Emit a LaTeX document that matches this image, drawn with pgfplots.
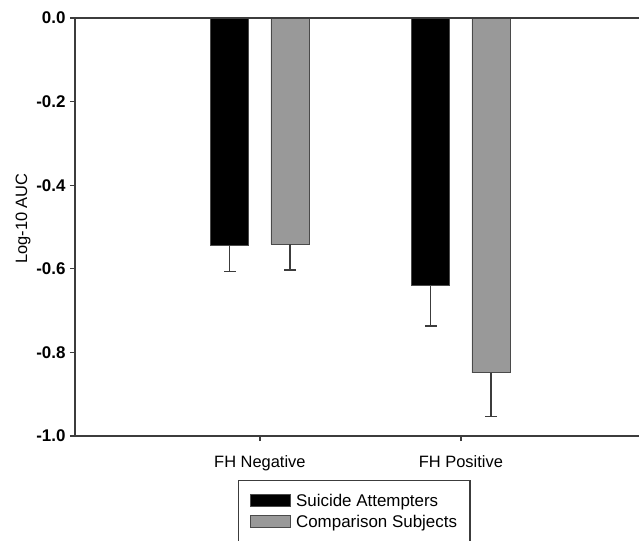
\documentclass[border=0pt]{standalone}
\usepackage{fontspec}
\setmainfont{Liberation Sans}
\usepackage{pgfplots}
\pgfplotsset{compat=1.18}
\definecolor{axgray}{HTML}{3C3C3C}
\definecolor{bargray}{HTML}{999999}
\definecolor{edgegray}{HTML}{4A4A4A}
\begin{document}
\begin{tikzpicture}
\useasboundingbox (0,0) rectangle (639bp,541bp);
\begin{axis}[
  at={(75bp,105bp)}, anchor=south west,
  scale only axis, width=564bp, height=418bp,
  xmin=0.08, xmax=2.886, ymin=-1, ymax=0,
  axis x line*=bottom, axis y line*=left,
  axis line style={axgray, line width=1.3bp},
  ybar, bar width=0.19,
  xtick={1,2}, xticklabels={FH Negative, FH Positive},
  ytick={-1,-0.8,-0.6,-0.4,-0.2,0},
  yticklabels={-1.0,-0.8,-0.6,-0.4,-0.2,0.0},
  yticklabel style={font=\fontsize{17}{20}\selectfont\bfseries, xshift=-1bp},
  xticklabel style={font=\fontsize{16.5}{19}\selectfont, yshift=-11bp},
  tick align=outside, major tick length=5bp,
  tick style={axgray, line width=1.2bp},
  ylabel={Log-10 AUC},
  ylabel style={font=\fontsize{16.5}{19}\selectfont, at={(axis description cs:-0.092,0.52)}, anchor=center},
  legend style={at={(0.289,-0.105)}, anchor=north west, draw=axgray, line width=1.2bp,
    font=\fontsize{17}{20}\selectfont, inner xsep=11bp, inner ysep=12bp, row sep=3bp},
  legend cell align=left,
  legend image code/.code={\draw[#1, line width=1bp] (0bp,-5bp) rectangle (40bp,7bp); \path[draw=none, fill=none] (0bp,0bp) -- (44bp,0bp);},
]
\addplot[fill=black, draw=edgegray, line width=0.8bp, bar shift=-0.15,
  error bars/.cd, y dir=minus, y explicit,
  error bar style={line width=1.2bp, axgray},
  error mark options={rotate=90, mark size=6bp, line width=1.2bp, axgray}]
  coordinates {(1,-0.543) +- (0,0.064) (2,-0.640) +- (0,0.097)};
\addplot[fill=bargray, draw=edgegray, line width=0.8bp, bar shift=0.15,
  error bars/.cd, y dir=minus, y explicit,
  error bar style={line width=1.2bp, axgray},
  error mark options={rotate=90, mark size=6bp, line width=1.2bp, axgray}]
  coordinates {(1,-0.541) +- (0,0.062) (2,-0.849) +- (0,0.105)};
\legend{Suicide Attempters, Comparison Subjects\hspace{6bp}}
\draw[axgray, line width=1.3bp] (rel axis cs:0,1) -- (rel axis cs:1,1);
\end{axis}
\end{tikzpicture}
\end{document}
